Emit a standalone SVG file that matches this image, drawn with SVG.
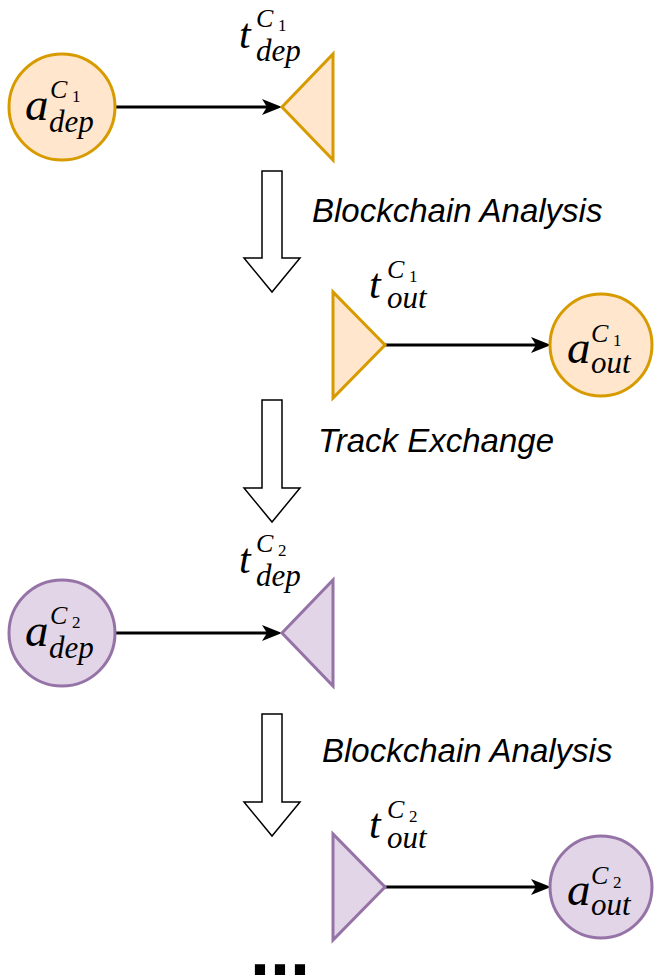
<svg xmlns="http://www.w3.org/2000/svg" width="654" height="980" viewBox="0 0 654 980">
<style>
.o{fill:#ffe6cc;stroke:#d79b00;stroke-width:3}
.p{fill:#e1d5e7;stroke:#9673a6;stroke-width:3}
.m{font-family:"Liberation Serif","DejaVu Serif",serif;font-style:italic;fill:#000}
.n{font-family:"Liberation Serif","DejaVu Serif",serif;fill:#000}
.lab{font-family:"Liberation Sans",Arial,sans-serif;font-style:italic;font-size:33px;fill:#000}
.ln{fill:none;stroke:#000;stroke-width:3}
.blk{fill:#fff;stroke:#000;stroke-width:1.5}
</style>
<defs>
<marker id="arr" viewBox="0 0 20 16" refX="14" refY="8" markerWidth="20" markerHeight="16" markerUnits="userSpaceOnUse" orient="auto">
<path d="M0,0 L20,8 L0,16 L5,8 z" fill="#000"/>
</marker>
</defs>
<g id="connectors">
<path class="ln" d="M116,107 L276,107" marker-end="url(#arr)"/>
<path class="ln" d="M385,345 L545,345" marker-end="url(#arr)"/>
<path class="ln" d="M116,633 L276,633" marker-end="url(#arr)"/>
<path class="ln" d="M385,887 L545,887" marker-end="url(#arr)"/>
<path class="blk" d="M262,171 L282,171 L282,258 L300,258 L272,292 L244,258 L262,258 Z"/>
<path class="blk" d="M262,400 L282,400 L282,488 L300,488 L272,522 L244,488 L262,488 Z"/>
<path class="blk" d="M262,714 L282,714 L282,802 L300,802 L272,836 L244,802 L262,802 Z"/>
</g>
<g id="a_dep_c1">
<circle class="o" cx="62" cy="107" r="53"/>
<text class="m" x="25" y="120" font-size="47">a</text>
<text class="m" x="50" y="98" font-size="26">C</text>
<text class="n" x="72" y="102" font-size="17">1</text>
<text class="m" x="49" y="132" font-size="31">dep</text>
</g>
<g id="t_dep_c1">
<path class="o" d="M333,54 L333,160 L282,107 Z"/>
<text class="m" x="239" y="48" font-size="42">t</text>
<text class="m" x="256" y="27" font-size="26">C</text>
<text class="n" x="278" y="31" font-size="17">1</text>
<text class="m" x="256" y="61" font-size="31">dep</text>
</g>
<g id="t_out_c1">
<path class="o" d="M333,292 L333,398 L385,345 Z"/>
<text class="m" x="369" y="298" font-size="42">t</text>
<text class="m" x="387" y="278" font-size="26">C</text>
<text class="n" x="409" y="282" font-size="17">1</text>
<text class="m" x="387" y="308" font-size="31">out</text>
</g>
<g id="a_out_c1">
<circle class="o" cx="601" cy="345" r="51"/>
<text class="m" x="567" y="363" font-size="47">a</text>
<text class="m" x="591" y="342" font-size="26">C</text>
<text class="n" x="613" y="346" font-size="17">1</text>
<text class="m" x="591" y="373" font-size="31">out</text>
</g>
<g id="a_dep_c2">
<circle class="p" cx="62" cy="633" r="53"/>
<text class="m" x="25" y="646" font-size="47">a</text>
<text class="m" x="50" y="624" font-size="26">C</text>
<text class="n" x="72" y="628" font-size="17">2</text>
<text class="m" x="49" y="658" font-size="31">dep</text>
</g>
<g id="t_dep_c2">
<path class="p" d="M333,580 L333,686 L282,633 Z"/>
<text class="m" x="239" y="573" font-size="42">t</text>
<text class="m" x="256" y="552" font-size="26">C</text>
<text class="n" x="278" y="556" font-size="17">2</text>
<text class="m" x="256" y="586" font-size="31">dep</text>
</g>
<g id="t_out_c2">
<path class="p" d="M333,834 L333,940 L385,887 Z"/>
<text class="m" x="369" y="838" font-size="42">t</text>
<text class="m" x="387" y="818" font-size="26">C</text>
<text class="n" x="409" y="822" font-size="17">2</text>
<text class="m" x="387" y="848" font-size="31">out</text>
</g>
<g id="a_out_c2">
<circle class="p" cx="601" cy="887" r="51"/>
<text class="m" x="567" y="905" font-size="47">a</text>
<text class="m" x="591" y="884" font-size="26">C</text>
<text class="n" x="613" y="888" font-size="17">2</text>
<text class="m" x="591" y="915" font-size="31">out</text>
</g>
<g id="labels">
<text class="lab" x="312" y="222">Blockchain Analysis</text>
<text class="lab" x="318" y="452">Track Exchange</text>
<text class="lab" x="322" y="762">Blockchain Analysis</text>
<text x="250" y="975" font-family="Liberation Sans,Arial,sans-serif" font-weight="bold" font-size="72">...</text>
</g>
</svg>
